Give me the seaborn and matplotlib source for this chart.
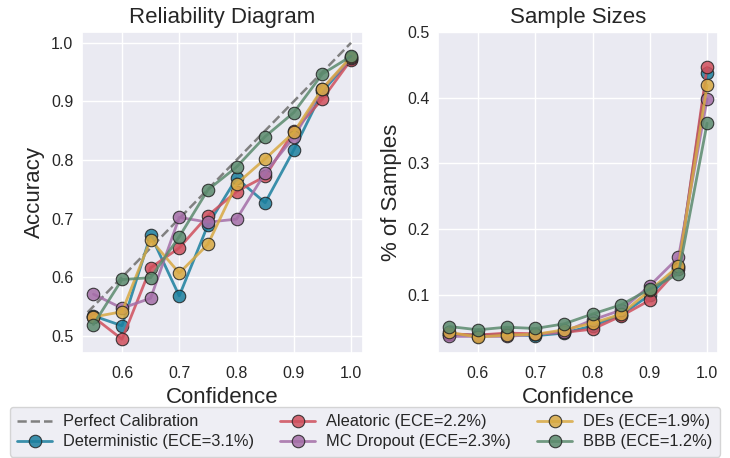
import numpy as np
import pandas as pd
import matplotlib
matplotlib.use("Agg")
import matplotlib.pyplot as plt
import seaborn as sns

confidence = [0.55, 0.60, 0.65, 0.70, 0.75, 0.80, 0.85, 0.90, 0.95, 1.00]

methods = ["Deterministic", "Aleatoric", "MC Dropout", "DEs", "BBB"]
ece = ["3.1%", "2.2%", "2.3%", "1.9%", "1.2%"]
colors = ["#1b7f9e", "#cf4f5c", "#a46ea7", "#d8a942", "#5b8a6d"]

acc_det = [0.534, 0.517, 0.672, 0.568, 0.689, 0.769, 0.727, 0.817, 0.917, 0.972]
acc_ale = [0.532, 0.494, 0.616, 0.650, 0.705, 0.746, 0.772, 0.849, 0.904, 0.971]
acc_mcd = [0.571, 0.547, 0.564, 0.702, 0.694, 0.699, 0.778, 0.839, 0.921, 0.974]
acc_des = [0.532, 0.541, 0.664, 0.607, 0.656, 0.759, 0.802, 0.847, 0.922, 0.976]
acc_bbb = [0.519, 0.596, 0.599, 0.669, 0.749, 0.788, 0.840, 0.881, 0.947, 0.977]

frac_det = [0.040, 0.039, 0.040, 0.038, 0.042, 0.053, 0.070, 0.100, 0.143, 0.437]
frac_ale = [0.041, 0.039, 0.042, 0.041, 0.043, 0.048, 0.068, 0.092, 0.140, 0.446]
frac_mcd = [0.037, 0.037, 0.037, 0.040, 0.044, 0.062, 0.077, 0.114, 0.157, 0.398]
frac_des = [0.043, 0.036, 0.039, 0.040, 0.047, 0.057, 0.071, 0.107, 0.144, 0.419]
frac_bbb = [0.052, 0.047, 0.051, 0.049, 0.056, 0.071, 0.085, 0.109, 0.132, 0.361]

perfect_x = [0.54, 1.0]

accs = [acc_det, acc_ale, acc_mcd, acc_des, acc_bbb]
fracs = [frac_det, frac_ale, frac_mcd, frac_des, frac_bbb]

sns.set_theme(style="darkgrid")
plt.rcParams["font.family"] = ["Liberation Sans", "DejaVu Sans"]

fig = plt.figure(figsize=(7.3, 4.58), dpi=100)
ax1 = fig.add_axes([81.7 / 730, 1 - 353.3 / 458, 281 / 730, 321.6 / 458])
ax2 = fig.add_axes([438.3 / 730, 1 - 353.3 / 458, 279.7 / 730, 321.6 / 458])

ax1.plot(perfect_x, perfect_x, "--", color="gray", lw=1.8, label="Perfect Calibration")

for m, e, c, a, f in zip(methods, ece, colors, accs, fracs):
    df = pd.DataFrame({"confidence": confidence, "accuracy": a, "fraction": f})
    lab = f"{m} (ECE={e})"
    sns.lineplot(data=df, x="confidence", y="accuracy", ax=ax1, color=c, lw=2,
                 marker="o", markersize=9, markeredgecolor="#222222",
                 markeredgewidth=0.8, alpha=0.85, label=lab)
    sns.lineplot(data=df, x="confidence", y="fraction", ax=ax2, color=c, lw=2,
                 marker="o", markersize=9, markeredgecolor="#222222",
                 markeredgewidth=0.8, alpha=0.85, legend=False)

ax1.set_xlim(0.5296, 1.0204)
ax1.set_ylim(0.470, 1.019)
ax1.set_xticks([0.6, 0.7, 0.8, 0.9, 1.0])
ax1.set_yticks([0.5, 0.6, 0.7, 0.8, 0.9, 1.0])
ax1.set_title("Reliability Diagram", fontsize=16)
ax1.set_xlabel("Confidence", fontsize=16)
ax1.set_ylabel("Accuracy", fontsize=16, labelpad=4)

ax2.set_xlim(0.5307, 1.019)
ax2.set_ylim(0.0113, 0.5)
ax2.set_xticks([0.6, 0.7, 0.8, 0.9, 1.0])
ax2.set_yticks([0.1, 0.2, 0.3, 0.4, 0.5])
ax2.set_title("Sample Sizes", fontsize=16)
ax2.set_xlabel("Confidence", fontsize=16)
ax2.set_ylabel("% of Samples", fontsize=16, labelpad=4)

for ax in (ax1, ax2):
    ax.tick_params(labelsize=11.5)
    ax.tick_params(axis="y", length=0, pad=6)

h, l = ax1.get_legend_handles_labels()
ax1.get_legend().remove()
fig.legend(h, l, ncol=3,
           loc="upper left", bbox_to_anchor=(10 / 730, 1 - 407 / 458), fontsize=11.8,
           frameon=True, columnspacing=1.6, handlelength=2.1, handletextpad=0.7,
           borderpad=0.45, labelspacing=0.3, borderaxespad=0)

fig.savefig("out.png", dpi=100)
